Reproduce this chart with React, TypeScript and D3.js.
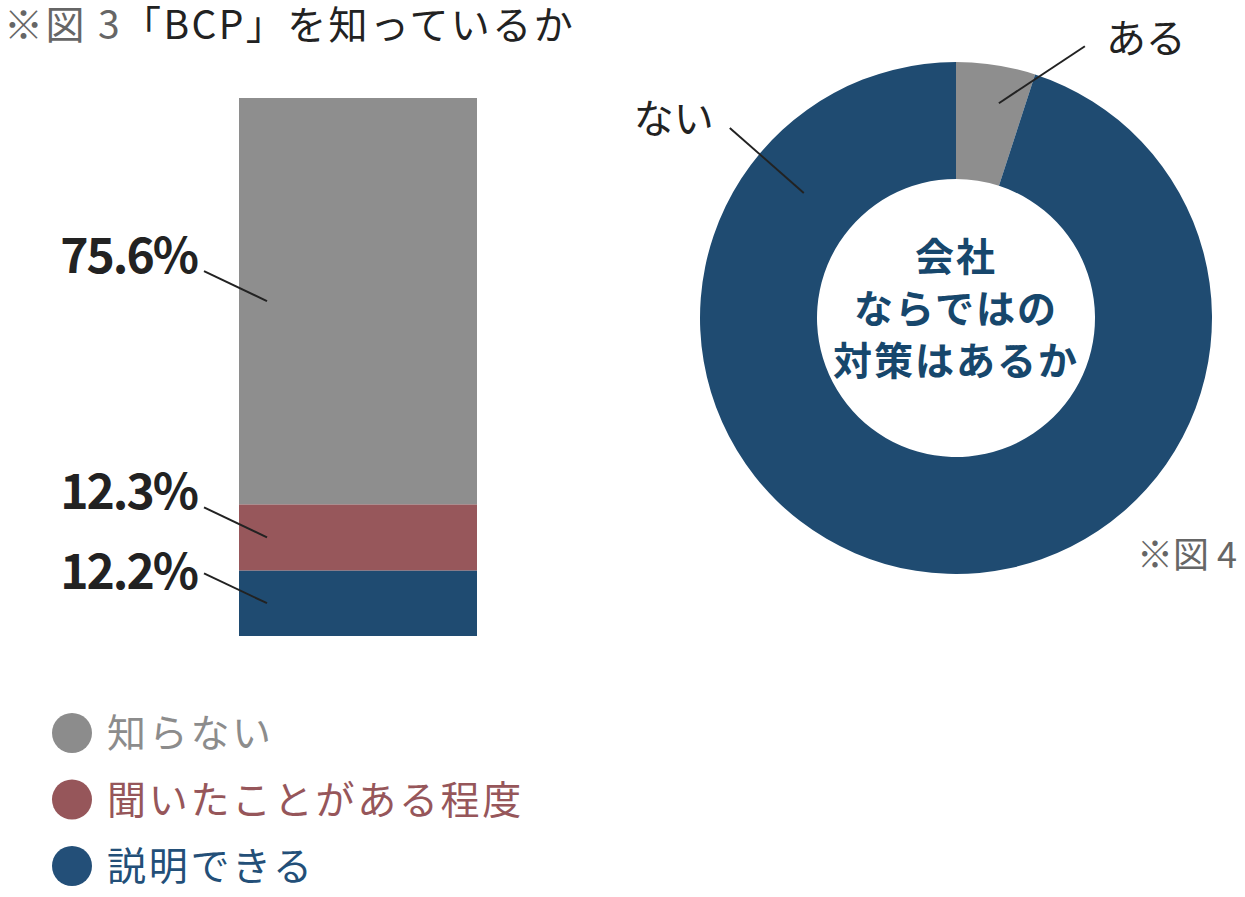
import React from 'react'
import * as d3 from 'd3'

// Figure 3: stacked bar, bottom → top
const barCategories = ['説明できる', '聞いたことがある程度', '知らない']
const barValues = [12.2, 12.3, 75.6]
const barColors = ['#1f4b71', '#97575b', '#8e8e8e']

// Legend order (top → bottom)
const legendLabels = ['知らない', '聞いたことがある程度', '説明できる']
const legendColors = ['#8c8c8c', '#96565a', '#234f78']

// Figure 4: donut
const donutLabels = ['ある', 'ない']
const donutValues = [5.0, 95.0]
const donutColors = ['#8e8e8e', '#1f4b71']
const donutCenterLines = ['会社', 'ならではの', '対策はあるか']

const W = 1245
const H = 897
const JP = '"Noto Sans CJK JP", "Noto Sans", sans-serif'

const App: React.FC = () => {
  // bar geometry
  const barX = 239
  const barW = 238
  const yScale = d3.scaleLinear()
    .domain([0, d3.sum(barValues)])
    .range([636, 98])

  let acc = 0
  const segments = barValues.map((v, i) => {
    const y0 = yScale(acc)
    acc += v
    const y1 = yScale(acc)
    return { value: v, color: barColors[i], label: barCategories[i], top: y1, bottom: y0, mid: (y0 + y1) / 2 }
  })

  // labels from top to bottom, pushed apart if too close
  const labelRows: { text: string; baseline: number; lineStart: number; lineEnd: number }[] = []
  const topDown = [...segments].reverse()
  let prevBase = -Infinity
  topDown.forEach(s => {
    const lineEnd = s.mid
    const lineStart = lineEnd - 30
    const baseline = Math.max(lineStart + 2, prevBase + 80)
    prevBase = baseline
    labelRows.push({ text: `${s.value.toFixed(1)}%`, baseline, lineStart: baseline - (baseline === lineStart + 2 ? 2 : 16), lineEnd })
  })

  // donut geometry
  const cx = 956
  const cy = 318
  const outerR = 256
  const innerR = 139
  const pie = d3.pie<number>().sort(null).value(d => d)
  const arcs = pie(donutValues)
  const arcGen = d3.arc<d3.PieArcDatum<number>>().innerRadius(innerR).outerRadius(outerR)

  const polar = (angle: number, r: number): [number, number] =>
    [cx + r * Math.sin(angle), cy - r * Math.cos(angle)]

  const aruMid = (arcs[0].startAngle + arcs[0].endAngle) / 2
  const aruStart = polar(aruMid + 0.04, 219)
  const aruEnd: [number, number] = [aruStart[0] + 86, aruStart[1] - 57]
  const naiStart = polar(-0.883, 197)
  const naiEnd: [number, number] = [naiStart[0] - 74, naiStart[1] - 65]

  return (
    <div style={{ position: 'absolute', left: 0, top: 0 }}>
      <svg width={W} height={H} style={{ display: 'block', background: '#fff' }}>
        {/* title */}
        <text x={4} y={39} fontFamily={JP} fontSize={39} letterSpacing={2.4} fill="#222">
          <tspan fill="#666">※図 3</tspan>
          <tspan>「BCP」を知っているか</tspan>
        </text>

        {/* stacked bar */}
        {segments.map((s, i) => (
          <rect key={i} x={barX} y={s.top} width={barW} height={s.bottom - s.top} fill={s.color} />
        ))}
        {labelRows.map((r, i) => (
          <g key={i}>
            <line x1={204} y1={r.lineStart} x2={267} y2={r.lineEnd} stroke="#222" strokeWidth={2} />
            <text x={197} y={r.baseline} textAnchor="end" fontFamily={JP} fontWeight={700}
              fontSize={48} letterSpacing={-2} fill="#222">{r.text}</text>
          </g>
        ))}

        {/* legend */}
        {legendLabels.map((l, i) => (
          <g key={l} transform={`translate(0,${733 + i * 66.5})`}>
            <circle cx={72} cy={0} r={20} fill={legendColors[i]} />
            <text x={107} y={14} fontFamily={JP} fontSize={39} letterSpacing={2.7} fill={legendColors[i]}>{l}</text>
          </g>
        ))}

        {/* donut */}
        <g transform={`translate(${cx},${cy})`}>
          {arcs.map((a, i) => (
            <path key={i} d={arcGen(a) ?? ''} fill={donutColors[i]} />
          ))}
          {donutCenterLines.map((t, i) => (
            <text key={t} x={0} y={-47 + i * 52} textAnchor="middle" fontFamily={JP} fontWeight={700}
              fontSize={39} letterSpacing={2} fill="#17476c">{t}</text>
          ))}
        </g>
        <line x1={aruStart[0]} y1={aruStart[1]} x2={aruEnd[0]} y2={aruEnd[1]} stroke="#222" strokeWidth={2} />
        <text x={aruEnd[0] + 21} y={aruEnd[1] + 7} fontFamily={JP} fontSize={40} fill="#222">{donutLabels[0]}</text>
        <line x1={naiStart[0]} y1={naiStart[1]} x2={naiEnd[0]} y2={naiEnd[1]} stroke="#222" strokeWidth={2} />
        <text x={naiEnd[0] - 96} y={naiEnd[1] + 5} fontFamily={JP} fontSize={40} fill="#222">{donutLabels[1]}</text>

        <text x={1137} y={568} fontFamily={JP} fontSize={36} fill="#666">※図 4</text>
      </svg>
    </div>
  )
}

export default App
